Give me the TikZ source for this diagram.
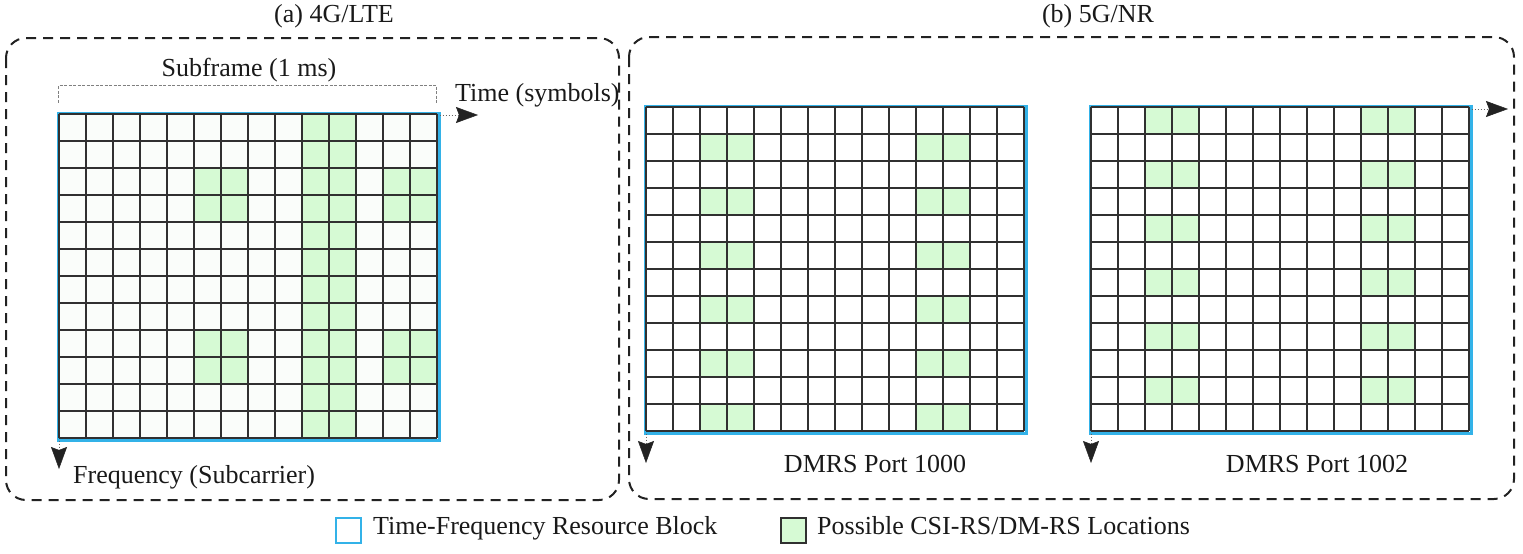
\documentclass[tikz,border=0pt]{standalone}
\usepackage{fontspec}
\setmainfont{Liberation Serif}
\usetikzlibrary{arrows.meta,calc}
\definecolor{gridline}{RGB}{48,48,48}
\definecolor{rbblue}{RGB}{51,178,232}
\definecolor{rsgreen}{RGB}{214,250,212}
\definecolor{ltebg}{RGB}{250,253,250}
\definecolor{boxdash}{RGB}{34,34,34}
\definecolor{txt}{RGB}{25,25,25}
\begin{document}
\begin{tikzpicture}[x=1pt,y=-1pt,
  lbl/.style={font=\fontsize{26}{30}\selectfont, inner sep=0pt, text=txt},
  panel/.style={draw=boxdash, line width=2pt, dash pattern=on 10pt off 7pt, rounded corners=20pt},
  rbnode/.style={draw=rbblue, line width=3pt, inner sep=0pt, minimum width=381pt, minimum height=327pt},
  cellgrid/.style={draw=gridline, line width=2pt},
  axarrow/.style={draw=boxdash!70, line width=1pt, dotted, -{Stealth[length=22pt,width=16pt,inset=3pt,color=boxdash,line width=0.5pt]}},
  bracket/.style={draw=gray, line width=0.8pt, dash pattern=on 3pt off 1.5pt},
  greenfill/.style={fill=rsgreen}
]
\useasboundingbox (0,0) rectangle (1523,554);

% panels
\draw[panel] (6,38) rectangle (619,500);
\draw[panel] (629,37) rectangle (1514,499);

% titles
\node[lbl, anchor=base] (ta) at (334,23) {(a) 4G/LTE};
\node[lbl, anchor=base] (tb) at (1098,23) {(b) 5G/NR};

% ---------- Grid A (4G/LTE) ----------
\node[rbnode, fill=ltebg] (gA) at (249,277) {};
\begin{scope}[shift={($(gA.north west)+(1.5,1.5)$)}]
  \fill[greenfill] (243,0) rectangle (297,324);
  \foreach \yy in {54,216} {
    \fill[greenfill] (135,\yy) rectangle ++(54,54);
    \fill[greenfill] (324,\yy) rectangle ++(54,54);
  }
  \foreach \i in {0,...,14} \draw[cellgrid] (27*\i,0) -- (27*\i,324);
  \foreach \j in {0,...,12} \draw[cellgrid] (0,27*\j) -- (378,27*\j);
  \coordinate (bl) at (0,104-115);
  \coordinate (bt1) at (0,87-115);
  \coordinate (bt2) at (378,87-115);
  \coordinate (br) at (378,104-115);
\end{scope}
\draw[bracket] (bl) -- (bt1) -- (bt2) -- (br);
\node[lbl, anchor=base] (subf) at (249,76) {Subframe (1 ms)};

\coordinate (tA) at (478,0);
\coordinate (fA) at (0,469);
\draw[axarrow] ($(gA.north east)+(-1.5,3)$) -- ($(gA.north east -| tA)+(0,3)$);
\draw[axarrow] ($(gA.south west)+(2,-1.5)$) -- ($(gA.south west |- fA)+(2,0)$);
\node[lbl, anchor=base west] (timelbl) at (455,101) {Time (symbols)};
\node[lbl, anchor=base west] (freqlbl) at (73,483) {Frequency (Subcarrier)};

% ---------- Grid B (DMRS Port 1000) ----------
\node[rbnode, fill=white] (gB) at (836,270) {};
\begin{scope}[shift={($(gB.north west)+(1.5,1.5)$)}]
  \foreach \r in {1,3,5,7,9,11} {
    \fill[greenfill] (54,27*\r) rectangle ++(54,27);
    \fill[greenfill] (270,27*\r) rectangle ++(54,27);
  }
  \foreach \i in {0,...,14} \draw[cellgrid] (27*\i,0) -- (27*\i,324);
  \foreach \j in {0,...,12} \draw[cellgrid] (0,27*\j) -- (378,27*\j);
\end{scope}
\coordinate (fB) at (0,463);
\draw[axarrow] ($(gB.south west)+(2,-1.5)$) -- ($(gB.south west |- fB)+(2,0)$);
\node[lbl, anchor=base] (portA) at (875,472) {DMRS Port 1000};

% ---------- Grid C (DMRS Port 1002) ----------
\node[rbnode, fill=white] (gC) at (1281,270) {};
\begin{scope}[shift={($(gC.north west)+(1.5,1.5)$)}]
  \foreach \r in {0,2,4,6,8,10} {
    \fill[greenfill] (54,27*\r) rectangle ++(54,27);
    \fill[greenfill] (270,27*\r) rectangle ++(54,27);
  }
  \foreach \i in {0,...,14} \draw[cellgrid] (27*\i,0) -- (27*\i,324);
  \foreach \j in {0,...,12} \draw[cellgrid] (0,27*\j) -- (378,27*\j);
\end{scope}
\coordinate (tC) at (1508,0);
\coordinate (fC) at (0,463);
\draw[axarrow] ($(gC.north east)+(-1.5,4)$) -- ($(gC.north east -| tC)+(0,4)$);
\draw[axarrow] ($(gC.south west)+(2,-1.5)$) -- ($(gC.south west |- fC)+(2,0)$);
\node[lbl, anchor=base] (portB) at (1317,472) {DMRS Port 1002};

% ---------- Legend ----------
\node[draw=rbblue, line width=2.5pt, minimum size=25pt, inner sep=0pt] (lgA) at (348.5,530.5) {};
\node[lbl, anchor=base west] (lgAt) at (373,534) {Time-Frequency Resource Block};
\node[draw=gridline, fill=rsgreen, line width=2pt, minimum size=25pt, inner sep=0pt] (lgB) at (793.5,530.5) {};
\node[lbl, anchor=base west] (lgBt) at (817,534) {Possible CSI-RS/DM-RS Locations};
\end{tikzpicture}
\end{document}
